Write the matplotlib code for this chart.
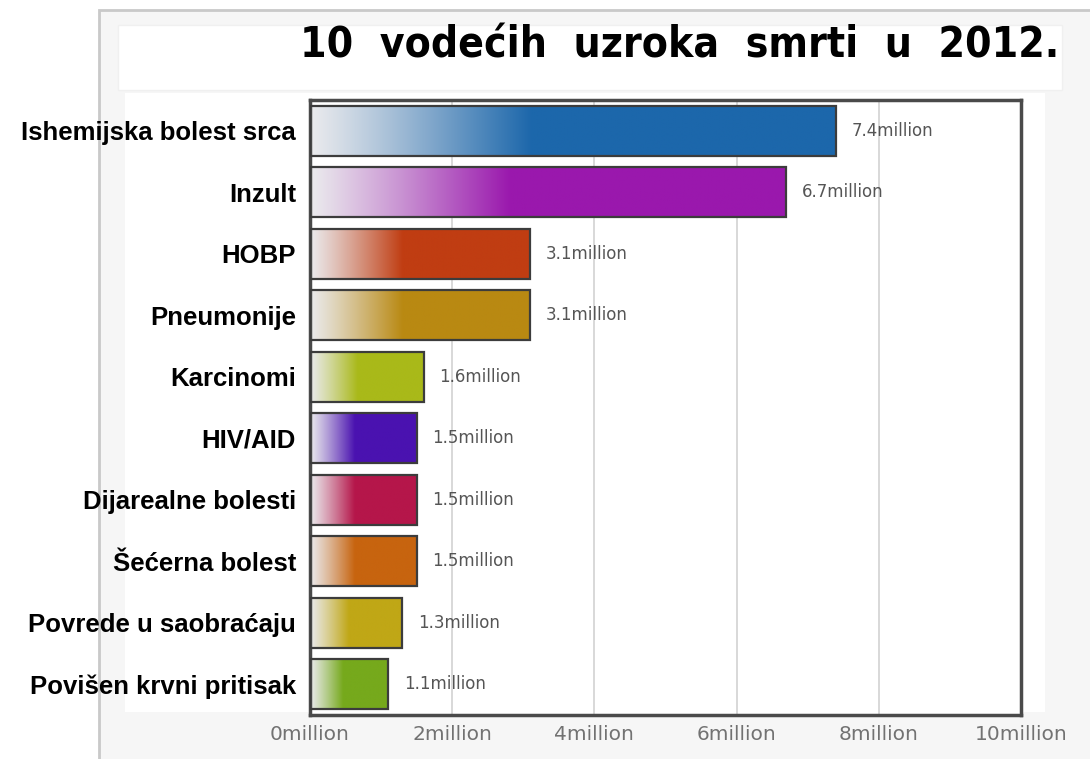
import numpy as np
import matplotlib.pyplot as plt
from matplotlib import font_manager
from matplotlib.colors import to_rgb
from matplotlib.patches import Rectangle

# data
causes = ["Ishemijska bolest srca", "Inzult", "HOBP", "Pneumonije", "Karcinomi",
          "HIV/AID", "Dijarealne bolesti", "Šećerna bolest",
          "Povrede u saobraćaju", "Povišen krvni pritisak"]
deaths = [7.4, 6.7, 3.1, 3.1, 1.6, 1.5, 1.5, 1.5, 1.3, 1.1]   # million
bar_colors = ["#1c67ab", "#9a18ad", "#c03d12", "#b98912", "#a9b919",
              "#4a12b0", "#b5164a", "#c7640f", "#c0a716", "#76a91c"]
xticks = [0, 2, 4, 6, 8, 10]
xtick_labels = [f"{t}million" for t in xticks]
value_labels = [f"{v}million" for v in deaths]
title = "10  vodećih  uzroka  smrti  u  2012."

W, H = 1090, 759


def box(x0, y0, x1, y1):
    """pixel box (top-left origin) -> figure fraction rect"""
    return (x0 / W, 1 - y1 / H), (x1 - x0) / W, (y1 - y0) / H


def condensed_bold():
    """look for an installed bold condensed/narrow face for the title"""
    cands = []
    for f in font_manager.fontManager.ttflist:
        name = (f.name + " " + str(f.stretch)).lower()
        if ("condensed" in name or "narrow" in name) and f.weight in (600, 700, 800, "bold"):
            if "semi" not in str(f.stretch).lower():
                cands.append(f)
    if cands:
        return font_manager.FontProperties(fname=cands[0].fname), True
    return font_manager.FontProperties(family="Liberation Sans", weight="bold"), False


fig = plt.figure(figsize=(W / 100, H / 100), dpi=100)
fig.patch.set_facecolor("white")

# screenshot-like panels behind the chart
xy, w, h = box(99, 10, 1100, 770)
fig.patches.append(Rectangle(xy, w, h, transform=fig.transFigure, facecolor="#f6f6f6",
                             edgecolor="#c9c9c9", lw=2, zorder=-10))
xy, w, h = box(118, 25, 1062, 90)
fig.patches.append(Rectangle(xy, w, h, transform=fig.transFigure, facecolor="white",
                             edgecolor="#f0f0f0", lw=1, zorder=-9))
xy, w, h = box(125, 93, 1045, 712)
fig.patches.append(Rectangle(xy, w, h, transform=fig.transFigure, facecolor="white",
                             edgecolor="none", zorder=-9))

tprop, is_narrow = condensed_bold()
tprop.set_size(30.5 if is_narrow else 25.5)
fig.text(680 / W, 1 - 45 / H, title, ha="center", va="center", fontproperties=tprop)

(ax_x, ax_y), ax_w, ax_h = box(310, 100, 1021, 715)
ax = fig.add_axes([ax_x, ax_y, ax_w, ax_h])
ax.set_facecolor("white")

bar_h = 0.82
start = np.array([0.92, 0.92, 0.93])
n = 300
for i, (v, c) in enumerate(zip(deaths, bar_colors)):
    col = np.array(to_rgb(c))
    t = np.linspace(0, 1, n)
    f = np.clip(t / 0.42, 0, 1) ** 1.1
    grad = start[None, :] * (1 - f[:, None]) + col[None, :] * f[:, None]
    ax.imshow(grad[None, :, :], extent=[0, v, i + bar_h / 2, i - bar_h / 2],
              aspect="auto", interpolation="bilinear", zorder=2)
    ax.barh(i, v, height=bar_h, fill=False, edgecolor="#3c3c3c", lw=1.6, zorder=3)
    ax.text(v + 0.22, i, value_labels[i], va="center", ha="left", fontsize=12,
            color="#555555", zorder=4)

ax.set_xlim(0, 10)
ax.set_ylim(9.5, -0.5)
ax.set_xticks(xticks)
ax.set_xticklabels(xtick_labels, fontsize=14.5, color="#727272")
ax.set_yticks(range(len(causes)))
ax.set_yticklabels(causes, fontsize=18.5, fontweight="bold", color="black",
                   family=["Liberation Sans", "DejaVu Sans"])
ax.tick_params(axis="both", length=0)
ax.tick_params(axis="x", pad=7)
ax.tick_params(axis="y", pad=10)
for x in xticks[1:-1]:
    ax.axvline(x, color="#d2d2d2", lw=1.2, zorder=1)
for s in ax.spines.values():
    s.set_color("#4a4a4a")
    s.set_linewidth(2.5)

fig.savefig("out.png", dpi=100, facecolor=fig.get_facecolor())
